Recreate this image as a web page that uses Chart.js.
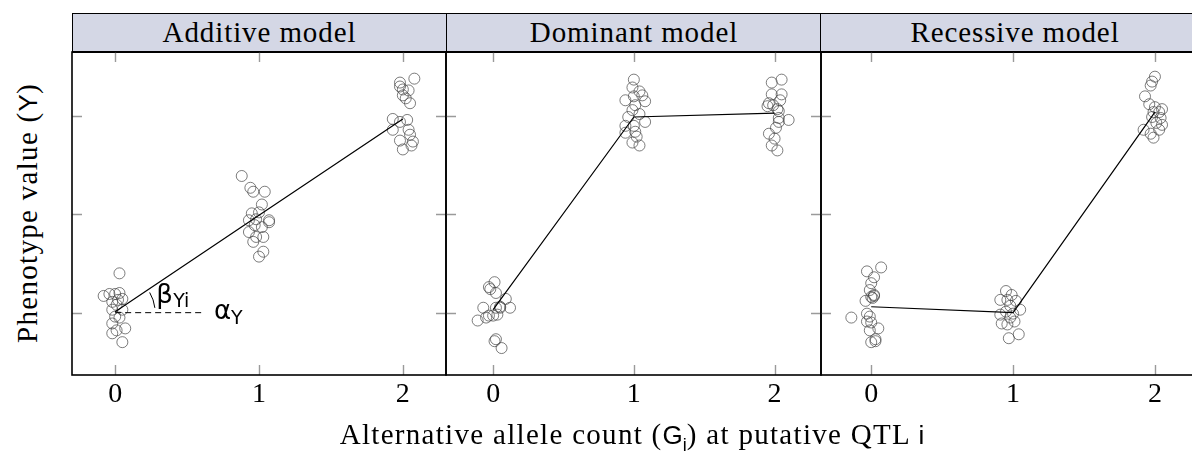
<!DOCTYPE html>
<html lang="en">
<head>
<meta charset="UTF-8">
<title>QTL genetic models</title>
<script src="https://cdn.jsdelivr.net/npm/chart.js"></script>
<style>
  html, body { margin: 0; padding: 0; background: #fff; }
  body { width: 1192px; height: 452px; overflow: hidden; position: relative; }
  canvas { position: absolute; }
  .head {
    position: absolute; top: 13px; height: 40px; box-sizing: border-box;
    background: #d4d7e5; border: 1.5px solid #000; border-bottom-width: 2px;
    font: 29px 'Liberation Serif', serif; letter-spacing: 0.9px;
    text-align: center; line-height: 36px; color: #000; white-space: nowrap;
  }
  #ylab, #xlab {
    position: absolute; font: 29px 'Liberation Serif', serif; letter-spacing: 1.3px;
    white-space: nowrap; color: #000;
  }
  #ylab { left: 27px; top: 213px; transform: translate(-50%, -50%) rotate(-90deg); }
  #xlab { left: 632px; top: 437px; transform: translate(-50%, -50%); }
  .m { font-family: 'Liberation Sans', sans-serif; font-size: 26px; letter-spacing: 0; }
  sub.m { font-size: 18px; }
</style>
</head>
<body>
  <div class="head" style="left:72px;width:375px">Additive model</div>
  <div class="head" style="left:446px;width:376px">Dominant model</div>
  <div class="head" style="left:820px;width:390px">Recessive model</div>

  <canvas id="c1" width="378" height="402" style="left:70px;top:50px"></canvas>
  <canvas id="c2" width="379" height="402" style="left:444px;top:50px"></canvas>
  <canvas id="c3" width="389" height="402" style="left:819px;top:50px"></canvas>

  <div id="ylab">Phenotype value (<span class="m">Y</span>)</div>
  <div id="xlab">Alternative allele count (<span class="m">G</span><sub class="m">i</sub>) at putative QTL <span class="m">i</span></div>

<script>
// genotype positions and axis ticks
const genotypes = [0, 1, 2];
const xTicks = [0, 1, 2];
const yTicks = [0, 1, 2];

// additive model: jittered genotype and phenotype per individual
const additiveX = [0.03, -0.08, -0.04, 0.00, 0.03, 0.05, -0.02, 0.01, -0.02, 0.05, 0.00, 0.03, -0.02, 0.07, 0.01, -0.02, 0.05, 0.02,
  0.88, 0.94, 0.96, 1.04, 1.02, 0.95, 1.00, 0.93, 0.98, 1.07, 0.97, 1.02, 1.07, 0.98, 1.03, 0.96, 1.03, 1.00, 0.93,
  2.08, 1.98, 1.98, 2.00, 2.04, 2.00, 2.02, 2.05, 1.93, 1.98, 2.03, 1.93, 2.04, 2.05, 1.98, 2.07, 2.06, 2.00];
const additiveY = [0.40, 0.17, 0.19, 0.19, 0.20, 0.14, 0.11, 0.08, 0.03, 0.03, -0.04, -0.05, -0.11, -0.16, -0.18, -0.21, -0.30, 0.13,
  1.39, 1.27, 1.23, 1.23, 1.10, 1.01, 1.02, 0.94, 0.95, 0.92, 0.89, 0.87, 0.94, 0.77, 0.77, 0.72, 0.62, 0.57, 0.82,
  2.38, 2.34, 2.30, 2.27, 2.26, 2.21, 2.18, 2.13, 1.97, 1.94, 1.96, 1.86, 1.86, 1.81, 1.75, 1.74, 1.70, 1.66];
const additiveMeans = [0.01, 0.99, 1.97];

// dominant model
const dominantX = [0.01, -0.03, -0.02, 0.02, 0.09, -0.07, 0.02, 0.05, 0.12, -0.03, 0.00, 0.03, -0.11, -0.05, 0.01, 0.02, 0.06, 0.05,
  1.00, 0.99, 1.04, 1.00, 1.06, 0.94, 1.08, 1.01, 0.99, 1.04, 0.96, 1.08, 0.94, 1.00, 0.94, 1.01, 1.02, 0.99, 1.04,
  1.98, 2.05, 1.98, 2.05, 2.04, 1.96, 1.95, 1.99, 2.02, 2.03, 2.03, 2.10, 2.03, 2.01, 1.96, 2.00, 1.98, 2.02];
const dominantY = [0.31, 0.26, 0.24, 0.20, 0.14, 0.05, 0.05, 0.05, 0.05, -0.03, -0.03, -0.02, -0.08, -0.05, -0.29, -0.27, -0.36, 0.06,
  2.37, 2.29, 2.25, 2.20, 2.21, 2.16, 2.15, 2.11, 2.06, 2.02, 1.99, 1.94, 1.90, 1.90, 1.83, 1.84, 1.79, 1.73, 1.70,
  2.34, 2.37, 2.22, 2.22, 2.16, 2.13, 2.10, 2.11, 2.07, 2.05, 1.98, 1.96, 1.94, 1.88, 1.82, 1.77, 1.70, 1.65];
const dominantMeans = [0.03, 1.99, 2.03];

// recessive model
const recessiveX = [-0.03, 0.07, 0.02, 0.00, -0.01, 0.02, 0.01, -0.04, -0.14, -0.03, -0.01, -0.03, 0.00, 0.05, -0.01, 0.03, 0.00, 0.03, 0.02, 0.00,
  0.95, 0.99, 0.91, 0.96, 1.02, 0.98, 1.05, 0.95, 1.00, 0.91, 0.98, 1.01, 0.92, 0.96, 1.04, 0.97,
  2.00, 1.98, 1.97, 1.93, 1.96, 2.00, 2.05, 1.99, 2.03, 1.98, 2.04, 2.05, 2.01, 1.92, 2.03, 1.97, 1.99];
const recessiveY = [0.42, 0.46, 0.36, 0.30, 0.23, 0.18, 0.15, 0.12, -0.05, -0.01, -0.04, -0.09, -0.10, -0.16, -0.18, -0.27, -0.30, -0.29, 0.17, 0.16,
  0.22, 0.18, 0.13, 0.13, 0.12, 0.07, 0.03, 0.01, -0.01, -0.02, -0.05, -0.09, -0.11, -0.12, -0.22, -0.26,
  2.40, 2.35, 2.31, 2.20, 2.12, 2.09, 2.07, 2.04, 2.04, 1.99, 1.98, 1.91, 1.93, 1.86, 1.86, 1.82, 1.78];
const recessiveMeans = [0.06, 0.00, 2.04];

// baseline for the intercept annotation (alpha) in the additive panel
const interceptX = [0, 0.61];
const interceptY = [0, 0];

const yMin = -0.634, yMax = 2.651;

function zip(xs, ys) {
  return xs.map((x, i) => ({ x: x, y: ys[i] }));
}

// inner tick marks and panel frame
const framePlugin = {
  id: 'frame',
  afterDraw(chart) {
    const ctx = chart.ctx, a = chart.chartArea;
    const xs = chart.scales.x, ys = chart.scales.y;
    ctx.save();
    ctx.strokeStyle = '#9a9a9a';
    ctx.lineWidth = 1.4;
    ctx.beginPath();
    xs.ticks.forEach(t => {
      const px = Math.round(xs.getPixelForValue(t.value)) + 0.5;
      ctx.moveTo(px, a.bottom); ctx.lineTo(px, a.bottom - 10);
      ctx.moveTo(px, a.top); ctx.lineTo(px, a.top + 10);
    });
    ys.ticks.forEach(t => {
      const py = Math.round(ys.getPixelForValue(t.value)) + 0.5;
      ctx.moveTo(a.left, py); ctx.lineTo(a.left + 10, py);
      ctx.moveTo(a.right, py); ctx.lineTo(a.right - 10, py);
    });
    ctx.stroke();
    ctx.strokeStyle = '#000';
    ctx.lineWidth = 1.6;
    ctx.strokeRect(a.left, a.top, a.right - a.left, a.bottom - a.top);
    ctx.restore();
  }
};

// slope angle mark and symbols in the additive panel
const notePlugin = {
  id: 'note',
  afterDatasetsDraw(chart) {
    const ctx = chart.ctx;
    const ox = chart.scales.x.getPixelForValue(interceptX[0]);
    const oy = chart.scales.y.getPixelForValue(interceptY[0]);
    const ex = chart.scales.x.getPixelForValue(interceptX[1]);
    ctx.save();
    ctx.strokeStyle = '#000';
    ctx.lineWidth = 1;
    ctx.beginPath();
    ctx.arc(ox, oy, 40, -0.53, -0.12);
    ctx.stroke();
    ctx.fillStyle = '#000';
    ctx.textBaseline = 'alphabetic';
    ctx.font = "26px 'DejaVu Sans', sans-serif";
    ctx.fillText('\u03B2', ox + 41, oy - 10);
    ctx.font = "19px 'DejaVu Sans', sans-serif";
    ctx.fillText('Yi', ox + 58, oy - 6);
    ctx.font = "26px 'DejaVu Sans', sans-serif";
    ctx.fillText('\u03B1', ex + 11, oy + 6);
    ctx.font = "19px 'DejaVu Sans', sans-serif";
    ctx.fillText('Y', ex + 28, oy + 11);
    ctx.restore();
  }
};

function makePanel(id, xs, ys, means, xMin, xMax, extra) {
  const datasets = [
    {
      type: 'line',
      data: zip(genotypes, means),
      borderColor: '#000',
      borderWidth: 1.2,
      pointRadius: 0,
      order: 0
    },
    {
      data: zip(xs, ys),
      pointRadius: 5.5,
      pointBorderWidth: 1,
      pointBorderColor: 'rgba(70,70,70,0.7)',
      pointBackgroundColor: 'rgba(0,0,0,0)',
      showLine: false,
      order: 1
    }
  ];
  if (extra) datasets.push(extra);
  return new Chart(document.getElementById(id), {
    type: 'scatter',
    data: { datasets: datasets },
    options: {
      responsive: false,
      animation: false,
      devicePixelRatio: 1,
      layout: { autoPadding: false, padding: { left: 2, right: 2, top: 2, bottom: 0 } },
      plugins: { legend: { display: false }, tooltip: { enabled: false } },
      scales: {
        x: {
          type: 'linear', min: xMin, max: xMax,
          afterBuildTicks: s => { s.ticks = xTicks.map(v => ({ value: v })); },
          afterFit: s => { s.height = 77; },
          grid: { display: false, drawTicks: false },
          border: { display: false },
          ticks: { color: '#000', padding: 3, font: { family: "'Liberation Serif', serif", size: 28 } }
        },
        y: {
          type: 'linear', min: yMin, max: yMax,
          afterBuildTicks: s => { s.ticks = yTicks.map(v => ({ value: v })); },
          afterFit: s => { s.width = 0; },
          grid: { display: false, drawTicks: false },
          border: { display: false },
          ticks: { display: false }
        }
      }
    },
    plugins: id === 'c1' ? [framePlugin, notePlugin] : [framePlugin]
  });
}

makePanel('c1', additiveX, additiveY, additiveMeans, -0.30, 2.30, {
  type: 'line',
  data: zip(interceptX, interceptY),
  borderColor: '#000',
  borderWidth: 1,
  borderDash: [6, 4],
  pointRadius: 0,
  order: 0
});
makePanel('c2', dominantX, dominantY, dominantMeans, -0.335, 2.33);
makePanel('c3', recessiveX, recessiveY, recessiveMeans, -0.354, 2.36);
</script>
</body>
</html>
